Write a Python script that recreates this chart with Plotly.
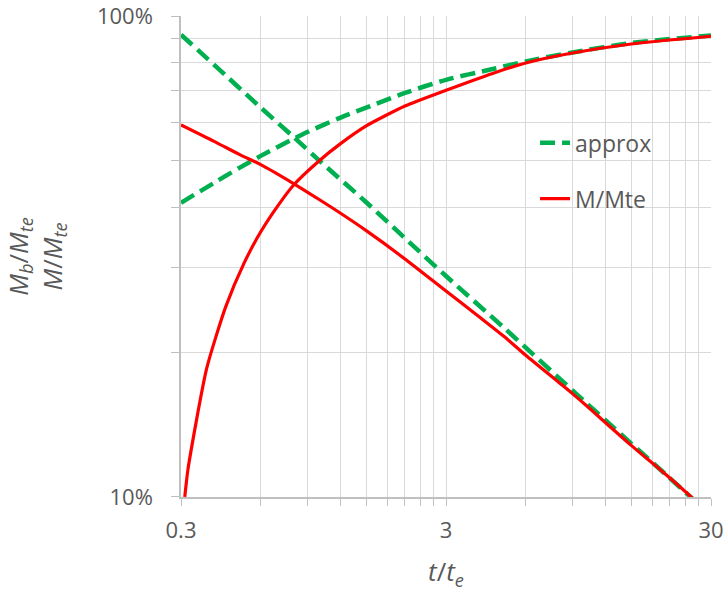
import math
import plotly.graph_objects as go

# ---- data ----
# M_b/M_te (red, decreasing)
t_mb = [0.3, 0.4, 0.5, 0.6, 0.8, 1.0, 1.2, 1.5, 2, 3, 4, 5, 6, 8, 9, 10, 15, 20, 25, 30]
mb_mte = [0.594, 0.549, 0.515, 0.491, 0.448, 0.415, 0.389, 0.358, 0.319, 0.268, 0.237,
          0.215, 0.197, 0.173, 0.164, 0.156, 0.128, 0.112, 0.1005, 0.091]

# approx for M_b/M_te (green dashed, decreasing)
t_mb_ap = [0.3, 0.4, 0.6, 0.8, 1.0, 1.5, 2, 3, 5, 10, 20, 30]
mb_ap = [0.915, 0.792, 0.645, 0.560, 0.500, 0.410, 0.354, 0.288, 0.224, 0.158, 0.112, 0.0915]

# M/M_te (red, increasing)
t_m = [0.31, 0.319, 0.375, 0.443, 0.52, 0.6, 0.7, 0.8, 1.0, 1.2, 1.5, 2.1, 3, 4.5, 6, 9, 15, 30]
m_mte = [0.1, 0.1145, 0.185, 0.249, 0.307, 0.356, 0.405, 0.446, 0.501, 0.543, 0.591,
         0.650, 0.701, 0.760, 0.799, 0.838, 0.875, 0.908]

# approx for M/M_te (green dashed, increasing)
t_m_ap = [0.3, 0.4, 0.5, 0.6, 0.8, 0.9, 1.2, 1.5, 2.1, 3, 4.5, 6, 9, 15, 30]
m_ap = [0.409, 0.450, 0.484, 0.512, 0.556, 0.574, 0.615, 0.645, 0.692, 0.737, 0.776,
        0.805, 0.840, 0.879, 0.911]

# tick positions / labels
x_tickvals = [0.3, 0.6, 0.9, 1.2, 1.5, 1.8, 2.1, 2.4, 2.7, 3, 6, 9, 12, 15, 18, 21, 24, 27, 30]
x_ticktext = ["0.3", "", "", "", "", "", "", "", "", "3", "", "", "", "", "", "", "", "", "30"]
y_tickvals = [0.1, 0.2, 0.3, 0.4, 0.5, 0.6, 0.7, 0.8, 0.9, 1.0]
y_ticktext = ["10%", "", "", "", "", "", "", "", "", "100%"]

GREEN = "#00b050"
RED = "#ff0000"
GREY_TXT = "#595959"
GRID = "#d9d9d9"
AXIS = "#bfbfbf"
FONT = "Open Sans"

fig = go.Figure()
fig.add_trace(go.Scatter(x=t_mb_ap, y=mb_ap, mode="lines", name="approx",
                         line=dict(color=GREEN, width=4.5, dash="15px,7px",
                                   shape="spline", smoothing=0.8),
                         legendgroup="a", showlegend=True))
fig.add_trace(go.Scatter(x=t_m_ap, y=m_ap, mode="lines", name="approx",
                         line=dict(color=GREEN, width=4.5, dash="15px,7px",
                                   shape="spline", smoothing=0.8),
                         legendgroup="a", showlegend=False))
fig.add_trace(go.Scatter(x=t_mb, y=mb_mte, mode="lines", name="M/Mte",
                         line=dict(color=RED, width=3.2, shape="spline", smoothing=0.8),
                         legendgroup="b", showlegend=True))
fig.add_trace(go.Scatter(x=t_m, y=m_mte, mode="lines", name="M/Mte",
                         line=dict(color=RED, width=3.2, shape="spline", smoothing=0.6),
                         legendgroup="b", showlegend=False))

fig.update_layout(
    width=726, height=599,
    margin=dict(l=181, r=15, t=16, b=102),
    paper_bgcolor="white", plot_bgcolor="white",
    font=dict(family=FONT, color=GREY_TXT, size=22),
    showlegend=True,
    legend=dict(x=0.668, y=0.781, xanchor="left", yanchor="top",
                bgcolor="rgba(0,0,0,0)", font=dict(size=23, color=GREY_TXT),
                traceorder="grouped", tracegroupgap=23),
)
fig.update_xaxes(
    type="log", range=[math.log10(0.3), math.log10(30)],
    tickmode="array", tickvals=x_tickvals, ticktext=x_ticktext,
    ticks="outside", ticklen=7, tickcolor=AXIS, tickwidth=1.3,
    showgrid=True, gridcolor=GRID, gridwidth=1.3,
    showline=True, linecolor=AXIS, linewidth=1.5,
    tickfont=dict(size=22, color=GREY_TXT), ticklabelstandoff=6,
    ticklabeloverflow="allow",
    zeroline=False, automargin=False,
    title=dict(text="<i>t</i>/<i>t</i><sub><i>e</i></sub>",
               font=dict(size=26, color=GREY_TXT), standoff=20),
)
fig.update_yaxes(
    type="log", range=[-1.0002, 0.0002],
    tickmode="array", tickvals=y_tickvals, ticktext=y_ticktext,
    ticks="outside", ticklen=8, tickcolor=AXIS, tickwidth=1.3,
    showgrid=True, gridcolor=GRID, gridwidth=1.3,
    showline=True, linecolor=AXIS, linewidth=1.5,
    tickfont=dict(size=22, color=GREY_TXT), ticklabelstandoff=14,
    ticklabeloverflow="allow",
    zeroline=False, automargin=False,
    title=dict(text="<i>M</i><sub><i>b</i></sub>/<i>M</i><sub><i>te</i></sub><br>"
                    "<i>M</i>/<i>M</i><sub><i>te</i></sub>",
               font=dict(size=26, color=GREY_TXT), standoff=30),
)

fig.write_html("out.html")
